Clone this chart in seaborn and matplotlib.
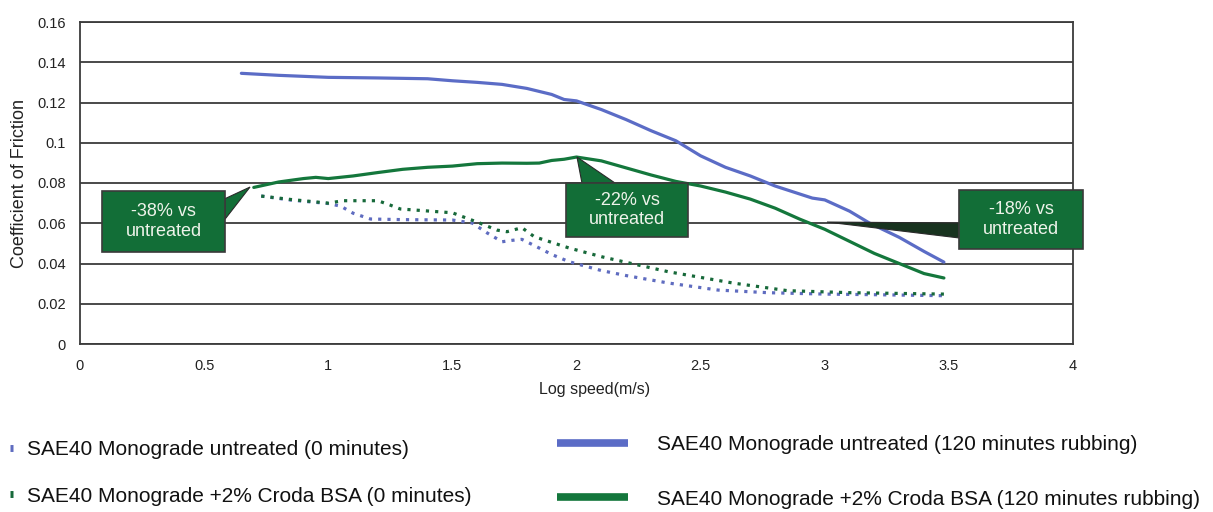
import numpy as np
import pandas as pd
import matplotlib
matplotlib.use("Agg")
import matplotlib.pyplot as plt
from matplotlib.patches import Rectangle, Polygon
import seaborn as sns

# ---------------- data ----------------
blue_solid_x = [0.65, 0.8, 1.0, 1.2, 1.4, 1.5, 1.6, 1.7, 1.8, 1.9, 1.95, 2.0, 2.1, 2.2, 2.3,
                2.4, 2.5, 2.6, 2.7, 2.8, 2.9, 2.95, 3.0, 3.1, 3.18, 3.3, 3.4, 3.48]
blue_solid_y = [0.1345, 0.1335, 0.1325, 0.1322, 0.1318, 0.1308, 0.1300, 0.1290, 0.1270, 0.1240,
                0.1215, 0.1208, 0.1165, 0.1115, 0.1060, 0.1010, 0.0935, 0.0878, 0.0835, 0.0785,
                0.0745, 0.0725, 0.0716, 0.0660, 0.0601, 0.0530, 0.0460, 0.0407]

green_solid_x = [0.7, 0.8, 0.9, 0.95, 1.0, 1.1, 1.2, 1.3, 1.4, 1.5, 1.6, 1.7, 1.8, 1.85, 1.9,
                 1.95, 2.0, 2.1, 2.2, 2.3, 2.4, 2.5, 2.6, 2.7, 2.8, 2.9, 3.0, 3.1, 3.2, 3.3,
                 3.4, 3.48]
green_solid_y = [0.0778, 0.0805, 0.0822, 0.0828, 0.0822, 0.0835, 0.0852, 0.0868, 0.0878, 0.0884,
                 0.0896, 0.0899, 0.0898, 0.0899, 0.0912, 0.0918, 0.0929, 0.0910, 0.0875, 0.0840,
                 0.0808, 0.0785, 0.0755, 0.0720, 0.0675, 0.0620, 0.0570, 0.0510, 0.0450, 0.0400,
                 0.0350, 0.0328]

blue_dot_x = [0.73, 0.85, 1.0, 1.05, 1.1, 1.17, 1.3, 1.5, 1.58, 1.64, 1.70, 1.74, 1.78, 1.84,
              1.9, 1.97, 2.1, 2.2, 2.37, 2.57, 2.77, 3.0, 3.2, 3.48]
blue_dot_y = [0.0735, 0.0715, 0.0698, 0.0685, 0.0650, 0.0621, 0.0618, 0.0616, 0.0601, 0.0552,
              0.0508, 0.0515, 0.0520, 0.0483, 0.0445, 0.0409, 0.0365, 0.0340, 0.0303, 0.0268,
              0.0255, 0.0248, 0.0245, 0.0240]

green_dot_x = [0.73, 0.85, 1.0, 1.06, 1.2, 1.25, 1.29, 1.5, 1.61, 1.68, 1.72, 1.78, 1.83, 1.97,
               2.1, 2.16, 2.37, 2.63, 2.85, 3.1, 3.48]
green_dot_y = [0.0735, 0.0718, 0.0700, 0.0712, 0.0712, 0.0690, 0.0671, 0.0652, 0.0601, 0.0566,
               0.0558, 0.0578, 0.0533, 0.0477, 0.0434, 0.0417, 0.0359, 0.0303, 0.0265, 0.0255,
               0.0248]

series_labels = [
    "SAE40 Monograde untreated (0 minutes)",
    "SAE40 Monograde +2% Croda BSA (0 minutes)",
    "SAE40 Monograde untreated (120 minutes rubbing)",
    "SAE40 Monograde +2% Croda BSA (120 minutes rubbing)",
]

x_ticks = [0, 0.5, 1, 1.5, 2, 2.5, 3, 3.5, 4]
x_tick_labels = ["0", "0.5", "1", "1.5", "2", "2.5", "3", "3.5", "4"]
y_ticks = [0, 0.02, 0.04, 0.06, 0.08, 0.1, 0.12, 0.14, 0.16]
y_tick_labels = ["0", "0.02", "0.04", "0.06", "0.08", "0.1", "0.12", "0.14", "0.16"]

callout_texts = ["-38% vs\nuntreated", "-22% vs\nuntreated", "-18% vs\nuntreated"]

# ---------------- style ----------------
sns.set_theme(style="white")
plt.rcParams["font.family"] = ["Liberation Sans", "DejaVu Sans"]

BLUE = "#5b6cc6"
GREEN = "#14773c"
BLUE_DOT = "#5f6cc0"
GREEN_DOT = "#17693a"
GRID = "#3c3c3c"
BOX = "#126e37"

W, H = 1213, 512
fig = plt.figure(figsize=(W / 100, H / 100), dpi=100)
ax = fig.add_axes([80 / W, 1 - 344 / H, (1073 - 80) / W, (344 - 22) / H])

dot_style = dict(linestyle=(0, (1, 1.9)), linewidth=2.3)
sns.lineplot(x=blue_dot_x, y=blue_dot_y, ax=ax, color=BLUE_DOT, sort=False,
             label=series_labels[0], **dot_style)
sns.lineplot(x=green_dot_x, y=green_dot_y, ax=ax, color=GREEN_DOT, sort=False,
             label=series_labels[1], **dot_style)
sns.lineplot(x=blue_solid_x, y=blue_solid_y, ax=ax, color=BLUE, linewidth=2.3, sort=False,
             label=series_labels[2])
sns.lineplot(x=green_solid_x, y=green_solid_y, ax=ax, color=GREEN, linewidth=2.3, sort=False,
             label=series_labels[3])

ax.set_xlim(0, 4)
ax.set_ylim(0, 0.16)
ax.set_xticks(x_ticks)
ax.set_xticklabels(x_tick_labels)
ax.set_yticks(y_ticks)
ax.set_yticklabels(y_tick_labels)
ax.tick_params(axis="both", length=0, labelsize=10.5, colors="#222222")
ax.tick_params(axis="x", pad=11)
ax.tick_params(axis="y", pad=10)
ax.yaxis.grid(True, color=GRID, linewidth=1.3)
ax.xaxis.grid(False)
ax.set_axisbelow(True)
for s in ax.spines.values():
    s.set_visible(True)
    s.set_color(GRID)
    s.set_linewidth(1.3)

ax.set_xlabel("Log speed(m/s)", fontsize=11.5, color="#222222")
ax.set_ylabel("Coefficient of Friction", fontsize=13, color="#222222")
ax.xaxis.set_label_coords(0.518, -0.117)
ax.yaxis.set_label_coords(-0.052, 0.5)

# ---------------- callouts ----------------
# box (x0, x1, y_bottom, y_top) and pointer polygon in data units
callouts = [
    dict(box=(0.0886, 0.584, 0.0457, 0.0760),
         wedge=[(0.584, 0.0722), (0.685, 0.0780), (0.584, 0.0620)], wc=BOX),
    dict(box=(1.958, 2.449, 0.0532, 0.0800),
         wedge=[(2.022, 0.0800), (2.002, 0.0929), (2.155, 0.0800)], wc=BOX),
    dict(box=(3.541, 4.040, 0.0472, 0.0765),
         wedge=[(3.541, 0.0601), (3.009, 0.0606), (3.541, 0.0527)], wc="#18331f"),
]
for c, txt in zip(callouts, callout_texts):
    x0, x1, y0, y1 = c["box"]
    ax.add_patch(Polygon(c["wedge"], closed=True, facecolor=c["wc"], edgecolor="#2a2a2a",
                         linewidth=0.8, zorder=5, clip_on=False))
    ax.add_patch(Rectangle((x0, y0), x1 - x0, y1 - y0, facecolor=BOX, edgecolor="#3a3a3a",
                           linewidth=1.2, zorder=6, clip_on=False))
    ax.text((x0 + x1) / 2, (y0 + y1) / 2, txt, ha="center", va="center", fontsize=13,
            color="#eef3ea", linespacing=1.2, zorder=7, clip_on=False)

# ---------------- legends ----------------
handles, labels = ax.get_legend_handles_labels()
ax.get_legend().remove()

leg1 = fig.legend(handles[:2], labels[:2], loc="center left",
                  bbox_to_anchor=(10 / W, 1 - 473 / H), frameon=False, fontsize=15,
                  handlelength=0.12, handletextpad=0.7, labelspacing=1.3,
                  borderpad=0, borderaxespad=0)
for h in leg1.legend_handles:
    h.set_linestyle("-")
    h.set_linewidth(5)
    h.set_solid_capstyle("butt")
for t in leg1.get_texts():
    t.set_color("#111111")

leg2 = fig.legend(handles[2:], labels[2:], loc="center left",
                  bbox_to_anchor=(557 / W, 1 - 472 / H), frameon=False, fontsize=15,
                  handlelength=3.4, handletextpad=1.4, labelspacing=1.7,
                  borderpad=0, borderaxespad=0)
for h in leg2.legend_handles:
    h.set_linewidth(5.5)
    h.set_solid_capstyle("butt")
for t in leg2.get_texts():
    t.set_color("#111111")

fig.savefig("out.png", dpi=100, facecolor="white")
